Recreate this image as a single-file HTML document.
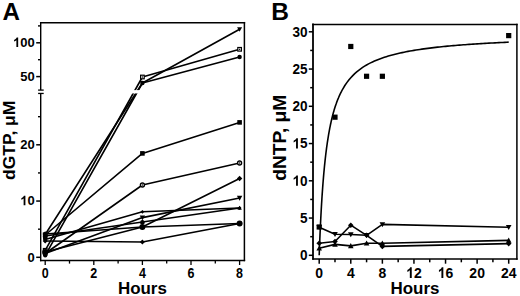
<!DOCTYPE html>
<html><head><meta charset="utf-8"><style>
html,body{margin:0;padding:0;background:#fff;}
body{width:520px;height:296px;overflow:hidden;}
svg{display:block;}
</style></head><body>
<svg width="520" height="296" viewBox="0 0 520 296">
<rect width="520" height="296" fill="#fff"/>
<g stroke="#000" stroke-linecap="butt" stroke-linejoin="round">
<polyline fill="none" stroke-width="1.6" points="45.20,234.50 142.40,83.00 239.60,29.30"/>
<polyline fill="none" stroke-width="1.6" points="45.20,250.30 142.40,77.00 239.60,49.30"/>
<polyline fill="none" stroke-width="1.6" points="45.20,255.30 142.40,83.00 239.60,57.00"/>
<polyline fill="none" stroke-width="1.6" points="45.20,235.00 142.40,153.40 239.60,122.40"/>
<polyline fill="none" stroke-width="1.6" points="45.20,253.50 142.40,185.00 239.60,163.00"/>
<polyline fill="none" stroke-width="1.6" points="45.20,234.00 142.40,227.00 239.60,178.50"/>
<polyline fill="none" stroke-width="1.6" points="45.20,253.50 142.40,217.60 239.60,198.00"/>
<polyline fill="none" stroke-width="1.6" points="45.20,239.50 142.40,211.80 239.60,208.00"/>
<polyline fill="none" stroke-width="1.6" points="45.20,236.00 142.40,222.00 239.60,208.00"/>
<polyline fill="none" stroke-width="1.6" points="45.20,252.00 142.40,227.00 239.60,223.50"/>
<polyline fill="none" stroke-width="1.6" points="45.20,241.00 142.40,242.00 239.60,223.50"/>
</g>
<rect x="41.70" y="90.10" width="201.70" height="3.35" fill="#fff"/>
<g stroke="#000">
<polygon points="42.70,232.50 47.70,232.50 45.20,237.00" fill="#000" stroke="none"/>
<polygon points="139.90,81.00 144.90,81.00 142.40,85.50" fill="#000" stroke="none"/>
<polygon points="237.10,27.30 242.10,27.30 239.60,31.80" fill="#000" stroke="none"/>
<rect x="43.40" y="248.50" width="3.60" height="3.60" fill="#fff" stroke-width="1.2"/>
<rect x="44.60" y="249.70" width="1.2" height="1.2" fill="#000" stroke="none"/>
<rect x="140.60" y="75.20" width="3.60" height="3.60" fill="#fff" stroke-width="1.2"/>
<rect x="141.80" y="76.40" width="1.2" height="1.2" fill="#000" stroke="none"/>
<rect x="237.80" y="47.50" width="3.60" height="3.60" fill="#fff" stroke-width="1.2"/>
<rect x="239.00" y="48.70" width="1.2" height="1.2" fill="#000" stroke="none"/>
<circle cx="45.20" cy="255.30" r="2.20" fill="#000" stroke="none"/>
<circle cx="142.40" cy="83.00" r="2.20" fill="#000" stroke="none"/>
<circle cx="239.60" cy="57.00" r="2.20" fill="#000" stroke="none"/>
<rect x="42.90" y="232.70" width="4.60" height="4.60" fill="#000" stroke="none"/>
<rect x="140.10" y="151.10" width="4.60" height="4.60" fill="#000" stroke="none"/>
<rect x="237.30" y="120.10" width="4.60" height="4.60" fill="#000" stroke="none"/>
<circle cx="45.20" cy="253.50" r="2.00" fill="#fff" stroke-width="1.4"/>
<circle cx="45.20" cy="253.50" r="0.7" fill="#000" stroke="none"/>
<circle cx="142.40" cy="185.00" r="2.00" fill="#fff" stroke-width="1.4"/>
<circle cx="142.40" cy="185.00" r="0.7" fill="#000" stroke="none"/>
<circle cx="239.60" cy="163.00" r="2.00" fill="#fff" stroke-width="1.4"/>
<circle cx="239.60" cy="163.00" r="0.7" fill="#000" stroke="none"/>
<polygon points="45.20,231.30 47.90,234.00 45.20,236.70 42.50,234.00" fill="#000" stroke="none"/>
<polygon points="142.40,224.30 145.10,227.00 142.40,229.70 139.70,227.00" fill="#000" stroke="none"/>
<polygon points="239.60,175.80 242.30,178.50 239.60,181.20 236.90,178.50" fill="#000" stroke="none"/>
<polygon points="42.50,251.34 47.90,251.34 45.20,256.20" fill="#000" stroke="none"/>
<polygon points="139.70,215.44 145.10,215.44 142.40,220.30" fill="#000" stroke="none"/>
<polygon points="236.90,195.84 242.30,195.84 239.60,200.70" fill="#000" stroke="none"/>
<polygon points="45.20,237.60 47.10,239.50 45.20,241.40 43.30,239.50" fill="#000" stroke="none"/>
<polygon points="142.40,209.90 144.30,211.80 142.40,213.70 140.50,211.80" fill="#000" stroke="none"/>
<polygon points="239.60,206.10 241.50,208.00 239.60,209.90 237.70,208.00" fill="#000" stroke="none"/>
<polygon points="43.00,237.76 47.40,237.76 45.20,233.80" fill="#000" stroke="none"/>
<polygon points="140.20,223.76 144.60,223.76 142.40,219.80" fill="#000" stroke="none"/>
<polygon points="237.40,209.76 241.80,209.76 239.60,205.80" fill="#000" stroke="none"/>
<circle cx="45.20" cy="252.00" r="3.00" fill="#000" stroke="none"/>
<circle cx="142.40" cy="227.00" r="3.00" fill="#000" stroke="none"/>
<circle cx="239.60" cy="223.50" r="3.00" fill="#000" stroke="none"/>
<polygon points="45.20,238.50 47.70,241.00 45.20,243.50 42.70,241.00" fill="#000" stroke="none"/>
<polygon points="142.40,239.50 144.90,242.00 142.40,244.50 139.90,242.00" fill="#000" stroke="none"/>
<polygon points="239.60,221.00 242.10,223.50 239.60,226.00 237.10,223.50" fill="#000" stroke="none"/>
<circle cx="142.40" cy="222.30" r="2.20" fill="#000" stroke="none"/>
<ellipse cx="45.20" cy="236.8" rx="2.3" ry="4.6" fill="#000" stroke="none"/>
</g>
<g stroke="#000" stroke-linecap="square">
<line x1="40.70" y1="22.70" x2="244.40" y2="22.70" stroke-width="1.5"/>
<line x1="244.40" y1="22.70" x2="244.40" y2="260.45" stroke-width="1.5"/>
<line x1="40.70" y1="260.45" x2="244.40" y2="260.45" stroke-width="1.5"/>
</g>
<g stroke="#000" stroke-linecap="butt">
<line x1="40.70" y1="21.95" x2="40.70" y2="90.10" stroke-width="1.4"/>
<line x1="40.70" y1="93.45" x2="40.70" y2="261.20" stroke-width="1.4"/>
</g>
<g stroke="#000" stroke-linecap="butt">
<line x1="38.10" y1="90.10" x2="43.70" y2="90.10" stroke-width="1.3"/>
<line x1="38.10" y1="93.45" x2="43.70" y2="93.45" stroke-width="1.3"/>
<line x1="36.20" y1="257.30" x2="40.70" y2="257.30" stroke-width="1.5"/>
<line x1="36.20" y1="201.05" x2="40.70" y2="201.05" stroke-width="1.5"/>
<line x1="36.20" y1="144.80" x2="40.70" y2="144.80" stroke-width="1.5"/>
<line x1="38.00" y1="229.18" x2="40.70" y2="229.18" stroke-width="1.4"/>
<line x1="38.00" y1="172.93" x2="40.70" y2="172.93" stroke-width="1.4"/>
<line x1="38.00" y1="116.68" x2="40.70" y2="116.68" stroke-width="1.4"/>
<line x1="36.20" y1="76.60" x2="40.70" y2="76.60" stroke-width="1.5"/>
<line x1="36.20" y1="42.80" x2="40.70" y2="42.80" stroke-width="1.5"/>
<line x1="38.00" y1="59.70" x2="40.70" y2="59.70" stroke-width="1.4"/>
<line x1="38.00" y1="25.90" x2="40.70" y2="25.90" stroke-width="1.4"/>
<line x1="45.20" y1="260.45" x2="45.20" y2="265.00" stroke-width="1.3"/>
<line x1="93.80" y1="260.45" x2="93.80" y2="265.00" stroke-width="1.3"/>
<line x1="142.40" y1="260.45" x2="142.40" y2="265.00" stroke-width="1.3"/>
<line x1="191.00" y1="260.45" x2="191.00" y2="265.00" stroke-width="1.3"/>
<line x1="239.60" y1="260.45" x2="239.60" y2="265.00" stroke-width="1.3"/>
<line x1="69.50" y1="260.45" x2="69.50" y2="263.60" stroke-width="1.3"/>
<line x1="118.10" y1="260.45" x2="118.10" y2="263.60" stroke-width="1.3"/>
<line x1="166.70" y1="260.45" x2="166.70" y2="263.60" stroke-width="1.3"/>
<line x1="215.30" y1="260.45" x2="215.30" y2="263.60" stroke-width="1.3"/>
</g>
<g font-family='"Liberation Sans", sans-serif' font-weight="bold" fill="#000">
<text x="0" y="0" font-size="23.5" text-anchor="start" transform="translate(2.60 19.80) scale(1.03 1.0)">A</text>
<text x="0" y="0" font-size="13.6" text-anchor="end" transform="translate(34.70 261.50) scale(0.957 1.0)">0</text>
<g transform="translate(34.70 205.25) scale(0.957 1.0)"><path d="M816 0L535 0L535 1030Q381 890 172 823L172 1071Q282 1106 410 1203Q538 1300 586 1430L816 1430Z" transform="translate(-15.127 0) scale(0.006641 -0.006641)"/><text x="-7.564" y="0" font-size="13.6">0</text></g>
<text x="0" y="0" font-size="13.6" text-anchor="end" transform="translate(34.70 149.00) scale(0.957 1.0)">20</text>
<text x="0" y="0" font-size="13.6" text-anchor="end" transform="translate(34.70 80.80) scale(0.957 1.0)">50</text>
<g transform="translate(34.70 47.00) scale(0.957 1.0)"><path d="M816 0L535 0L535 1030Q381 890 172 823L172 1071Q282 1106 410 1203Q538 1300 586 1430L816 1430Z" transform="translate(-22.691 0) scale(0.006641 -0.006641)"/><text x="-15.127" y="0" font-size="13.6">0</text><text x="-7.564" y="0" font-size="13.6">0</text></g>
<text x="0" y="0" font-size="13.6" text-anchor="middle" transform="translate(45.20 278.10) scale(0.92 1.06)">0</text>
<text x="0" y="0" font-size="13.6" text-anchor="middle" transform="translate(93.80 278.10) scale(0.92 1.06)">2</text>
<text x="0" y="0" font-size="13.6" text-anchor="middle" transform="translate(142.40 278.10) scale(0.92 1.06)">4</text>
<text x="0" y="0" font-size="13.6" text-anchor="middle" transform="translate(191.00 278.10) scale(0.92 1.06)">6</text>
<text x="0" y="0" font-size="13.6" text-anchor="middle" transform="translate(239.60 278.10) scale(0.92 1.06)">8</text>
<text x="0" y="0" font-size="16" text-anchor="middle" transform="translate(142.40 293.70) scale(1.06 1.0)">Hours</text>
<text x="0" y="0" font-size="16.5" text-anchor="middle" transform="translate(14.60 140.30) rotate(-90) scale(1.06 1.0)">dGTP, μM</text>
</g>
<g stroke="#000" stroke-linecap="butt" stroke-linejoin="round">
<polyline fill="none" stroke-width="1.6" points="319.20,255.30 319.36,250.95 319.52,246.76 319.67,242.73 319.83,238.85 319.99,235.12 320.15,231.51 320.31,228.04 320.46,224.68 320.62,221.43 320.78,218.30 320.94,215.27 321.10,212.33 321.25,209.49 321.41,206.74 321.57,204.07 321.73,201.48 321.88,198.97 322.04,196.53 322.20,194.17 322.36,191.87 322.52,189.64 322.67,187.46 322.83,185.35 322.99,183.30 323.15,181.30 323.31,179.35 323.46,177.45 323.62,175.60 323.78,173.80 323.94,172.05 324.10,170.33 324.25,168.66 324.41,167.03 324.57,165.44 324.73,163.88 324.89,162.37 325.04,160.88 325.20,159.43 325.36,158.01 325.52,156.63 325.67,155.27 325.83,153.95 325.99,152.65 326.15,151.38 326.31,150.14 326.46,148.92 326.62,147.73 326.78,146.56 326.94,145.42 327.10,144.29 327.25,143.20 327.41,142.12 327.57,141.06 327.73,140.03 327.89,139.01 328.04,138.01 328.20,137.03 328.36,136.07 328.52,135.13 328.68,134.20 328.83,133.29 328.99,132.40 329.15,131.52 329.31,130.66 329.46,129.82 329.62,128.98 329.78,128.17 329.94,127.36 330.10,126.57 330.25,125.79 330.41,125.03 330.57,124.28 330.73,123.54 330.89,122.81 331.04,122.09 331.20,121.39 331.36,120.70 331.52,120.01 331.68,119.34 331.83,118.68 331.99,118.03 332.15,117.38 332.31,116.75 332.47,116.13 332.62,115.52 332.78,114.91 332.94,114.32 333.10,113.73 333.25,113.15 333.41,112.58 333.57,112.02 333.73,111.46 333.89,110.92 334.04,110.38 334.20,109.85 334.36,109.32 334.52,108.80 334.68,108.29 334.83,107.79 334.99,107.29 335.15,106.80 335.31,106.32 335.47,105.84 335.62,105.37 335.78,104.91 335.94,104.45 336.10,103.99 336.26,103.55 336.41,103.10 336.57,102.67 336.73,102.24 336.89,101.81 337.04,101.39 337.20,100.98 337.36,100.57 337.52,100.16 337.68,99.76 337.83,99.36 337.99,98.97 338.15,98.59 338.31,98.21 338.47,97.83 338.62,97.45 338.78,97.09 338.94,96.72 339.10,96.36 339.26,96.00 339.41,95.65 339.57,95.30 339.73,94.96 339.89,94.62 340.05,94.28 340.20,93.95 340.36,93.62 340.52,93.29 340.68,92.97 340.84,92.65 340.99,92.34 341.15,92.02 341.31,91.71 341.47,91.41 341.62,91.11 341.78,90.81 341.94,90.51 342.10,90.22 342.26,89.93 342.41,89.64 342.57,89.35 342.73,89.07 342.89,88.79 344.86,85.53 346.84,82.63 348.81,80.03 350.78,77.69 352.76,75.58 354.73,73.66 356.71,71.90 358.68,70.29 360.65,68.81 362.63,67.45 364.60,66.18 366.58,65.01 368.55,63.91 370.52,62.89 372.50,61.94 374.47,61.04 376.45,60.20 378.42,59.41 380.39,58.66 382.37,57.96 384.34,57.29 386.32,56.66 388.29,56.06 390.26,55.49 392.24,54.95 394.21,54.43 396.19,53.94 398.16,53.47 400.13,53.02 402.11,52.60 404.08,52.18 406.06,51.79 408.03,51.41 410.00,51.05 411.98,50.70 413.95,50.37 415.93,50.05 417.90,49.74 419.87,49.44 421.85,49.15 423.82,48.87 425.80,48.60 427.77,48.34 429.74,48.09 431.72,47.85 433.69,47.61 435.67,47.39 437.64,47.17 439.61,46.95 441.59,46.75 443.56,46.54 445.54,46.35 447.51,46.16 449.48,45.98 451.46,45.80 453.43,45.62 455.41,45.45 457.38,45.29 459.35,45.13 461.33,44.97 463.30,44.82 465.28,44.68 467.25,44.53 469.22,44.39 471.20,44.25 473.17,44.12 475.15,43.99 477.12,43.86 479.09,43.74 481.07,43.62 483.04,43.50 485.02,43.38 486.99,43.27 488.96,43.16 490.94,43.05 492.91,42.94 494.89,42.84 496.86,42.74 498.83,42.64 500.81,42.54 502.78,42.45 504.76,42.35 506.73,42.26 508.70,42.17"/>
<polyline fill="none" stroke-width="1.6" points="319.20,227.20 334.99,234.20 350.78,234.50 366.58,235.30 382.37,224.40 508.70,227.20"/>
<polyline fill="none" stroke-width="1.6" points="319.20,243.30 334.99,241.50 350.78,225.20 366.58,235.30 382.37,246.40 508.70,243.60"/>
<polyline fill="none" stroke-width="1.6" points="319.20,248.20 334.99,244.40 350.78,245.90 366.58,243.30 382.37,243.20 508.70,240.40"/>
</g>
<g stroke="#000">
<polygon points="316.40,224.96 322.00,224.96 319.20,230.00" fill="#000" stroke="none"/>
<polygon points="332.19,231.96 337.79,231.96 334.99,237.00" fill="#000" stroke="none"/>
<polygon points="347.98,232.26 353.58,232.26 350.78,237.30" fill="#000" stroke="none"/>
<polygon points="363.78,233.06 369.38,233.06 366.58,238.10" fill="#000" stroke="none"/>
<polygon points="379.57,222.16 385.17,222.16 382.37,227.20" fill="#000" stroke="none"/>
<polygon points="505.90,224.96 511.50,224.96 508.70,230.00" fill="#000" stroke="none"/>
<polygon points="319.20,240.50 322.00,243.30 319.20,246.10 316.40,243.30" fill="#000" stroke="none"/>
<polygon points="334.99,238.70 337.79,241.50 334.99,244.30 332.19,241.50" fill="#000" stroke="none"/>
<polygon points="350.78,222.40 353.58,225.20 350.78,228.00 347.98,225.20" fill="#000" stroke="none"/>
<polygon points="366.58,232.50 369.38,235.30 366.58,238.10 363.78,235.30" fill="#000" stroke="none"/>
<polygon points="382.37,243.60 385.17,246.40 382.37,249.20 379.57,246.40" fill="#000" stroke="none"/>
<polygon points="508.70,240.80 511.50,243.60 508.70,246.40 505.90,243.60" fill="#000" stroke="none"/>
<polygon points="316.40,250.44 322.00,250.44 319.20,245.40" fill="#000" stroke="none"/>
<polygon points="332.19,246.64 337.79,246.64 334.99,241.60" fill="#000" stroke="none"/>
<polygon points="347.98,248.14 353.58,248.14 350.78,243.10" fill="#000" stroke="none"/>
<polygon points="363.78,245.54 369.38,245.54 366.58,240.50" fill="#000" stroke="none"/>
<polygon points="379.57,245.44 385.17,245.44 382.37,240.40" fill="#000" stroke="none"/>
<polygon points="505.90,242.64 511.50,242.64 508.70,237.60" fill="#000" stroke="none"/>
<rect x="316.60" y="224.39" width="5.20" height="5.20" fill="#000" stroke="none"/>
<rect x="332.39" y="114.58" width="5.20" height="5.20" fill="#000" stroke="none"/>
<rect x="348.18" y="43.88" width="5.20" height="5.20" fill="#000" stroke="none"/>
<rect x="363.98" y="73.68" width="5.20" height="5.20" fill="#000" stroke="none"/>
<rect x="379.77" y="73.68" width="5.20" height="5.20" fill="#000" stroke="none"/>
<rect x="506.10" y="33.00" width="5.20" height="5.20" fill="#000" stroke="none"/>
</g>
<g stroke="#000" stroke-linecap="square">
<line x1="313.00" y1="24.50" x2="516.90" y2="24.50" stroke-width="1.5"/>
<line x1="516.90" y1="24.50" x2="516.90" y2="258.95" stroke-width="1.5"/>
<line x1="313.00" y1="258.95" x2="516.90" y2="258.95" stroke-width="1.5"/>
<line x1="313.00" y1="24.50" x2="313.00" y2="258.95" stroke-width="1.8"/>
</g>
<g stroke="#000" stroke-linecap="butt">
<line x1="308.80" y1="255.30" x2="313.00" y2="255.30" stroke-width="1.5"/>
<line x1="308.80" y1="218.05" x2="313.00" y2="218.05" stroke-width="1.5"/>
<line x1="308.80" y1="180.80" x2="313.00" y2="180.80" stroke-width="1.5"/>
<line x1="308.80" y1="143.55" x2="313.00" y2="143.55" stroke-width="1.5"/>
<line x1="308.80" y1="106.30" x2="313.00" y2="106.30" stroke-width="1.5"/>
<line x1="308.80" y1="69.05" x2="313.00" y2="69.05" stroke-width="1.5"/>
<line x1="308.80" y1="31.80" x2="313.00" y2="31.80" stroke-width="1.5"/>
<line x1="310.20" y1="236.68" x2="313.00" y2="236.68" stroke-width="1.5"/>
<line x1="310.20" y1="199.43" x2="313.00" y2="199.43" stroke-width="1.5"/>
<line x1="310.20" y1="162.18" x2="313.00" y2="162.18" stroke-width="1.5"/>
<line x1="310.20" y1="124.93" x2="313.00" y2="124.93" stroke-width="1.5"/>
<line x1="310.20" y1="87.68" x2="313.00" y2="87.68" stroke-width="1.5"/>
<line x1="310.20" y1="50.43" x2="313.00" y2="50.43" stroke-width="1.5"/>
<line x1="319.20" y1="258.95" x2="319.20" y2="263.70" stroke-width="1.5"/>
<line x1="350.78" y1="258.95" x2="350.78" y2="263.70" stroke-width="1.5"/>
<line x1="382.37" y1="258.95" x2="382.37" y2="263.70" stroke-width="1.5"/>
<line x1="413.95" y1="258.95" x2="413.95" y2="263.70" stroke-width="1.5"/>
<line x1="445.54" y1="258.95" x2="445.54" y2="263.70" stroke-width="1.5"/>
<line x1="477.12" y1="258.95" x2="477.12" y2="263.70" stroke-width="1.5"/>
<line x1="508.70" y1="258.95" x2="508.70" y2="263.70" stroke-width="1.5"/>
<line x1="334.99" y1="258.95" x2="334.99" y2="262.30" stroke-width="1.5"/>
<line x1="366.58" y1="258.95" x2="366.58" y2="262.30" stroke-width="1.5"/>
<line x1="398.16" y1="258.95" x2="398.16" y2="262.30" stroke-width="1.5"/>
<line x1="429.74" y1="258.95" x2="429.74" y2="262.30" stroke-width="1.5"/>
<line x1="461.33" y1="258.95" x2="461.33" y2="262.30" stroke-width="1.5"/>
<line x1="492.91" y1="258.95" x2="492.91" y2="262.30" stroke-width="1.5"/>
</g>
<g font-family='"Liberation Sans", sans-serif' font-weight="bold" fill="#000">
<text x="0" y="0" font-size="24.5" text-anchor="start" transform="translate(271.30 20.30) scale(1.0 1.0)">B</text>
<text x="0" y="0" font-size="14.6" text-anchor="end" transform="translate(307.60 260.20) scale(0.93 1.0)">0</text>
<text x="0" y="0" font-size="14.6" text-anchor="end" transform="translate(307.60 222.95) scale(0.93 1.0)">5</text>
<g transform="translate(307.60 185.70) scale(0.93 1.0)"><path d="M816 0L535 0L535 1030Q381 890 172 823L172 1071Q282 1106 410 1203Q538 1300 586 1430L816 1430Z" transform="translate(-16.240 0) scale(0.007129 -0.007129)"/><text x="-8.120" y="0" font-size="14.6">0</text></g>
<g transform="translate(307.60 148.45) scale(0.93 1.0)"><path d="M816 0L535 0L535 1030Q381 890 172 823L172 1071Q282 1106 410 1203Q538 1300 586 1430L816 1430Z" transform="translate(-16.240 0) scale(0.007129 -0.007129)"/><text x="-8.120" y="0" font-size="14.6">5</text></g>
<text x="0" y="0" font-size="14.6" text-anchor="end" transform="translate(307.60 111.20) scale(0.93 1.0)">20</text>
<text x="0" y="0" font-size="14.6" text-anchor="end" transform="translate(307.60 73.95) scale(0.93 1.0)">25</text>
<text x="0" y="0" font-size="14.6" text-anchor="end" transform="translate(307.60 36.70) scale(0.93 1.0)">30</text>
<text x="0" y="0" font-size="14.7" text-anchor="middle" transform="translate(319.20 278.10) scale(0.95 1.05)">0</text>
<text x="0" y="0" font-size="14.7" text-anchor="middle" transform="translate(350.78 278.10) scale(0.95 1.05)">4</text>
<text x="0" y="0" font-size="14.7" text-anchor="middle" transform="translate(382.37 278.10) scale(0.95 1.05)">8</text>
<g transform="translate(413.95 278.10) scale(0.95 1.05)"><path d="M816 0L535 0L535 1030Q381 890 172 823L172 1071Q282 1106 410 1203Q538 1300 586 1430L816 1430Z" transform="translate(-8.175 0) scale(0.007178 -0.007178)"/><text x="0.000" y="0" font-size="14.7">2</text></g>
<g transform="translate(445.54 278.10) scale(0.95 1.05)"><path d="M816 0L535 0L535 1030Q381 890 172 823L172 1071Q282 1106 410 1203Q538 1300 586 1430L816 1430Z" transform="translate(-8.175 0) scale(0.007178 -0.007178)"/><text x="0.000" y="0" font-size="14.7">6</text></g>
<text x="0" y="0" font-size="14.7" text-anchor="middle" transform="translate(477.12 278.10) scale(0.95 1.05)">20</text>
<text x="0" y="0" font-size="14.7" text-anchor="middle" transform="translate(508.70 278.10) scale(0.95 1.05)">24</text>
<text x="0" y="0" font-size="16" text-anchor="middle" transform="translate(415.00 293.60) scale(1.06 1.0)">Hours</text>
<text x="0" y="0" font-size="18.5" text-anchor="middle" transform="translate(286.00 137.70) rotate(-90) scale(1.038 1.0)">dNTP, μM</text>
</g>
</svg>
</body></html>
